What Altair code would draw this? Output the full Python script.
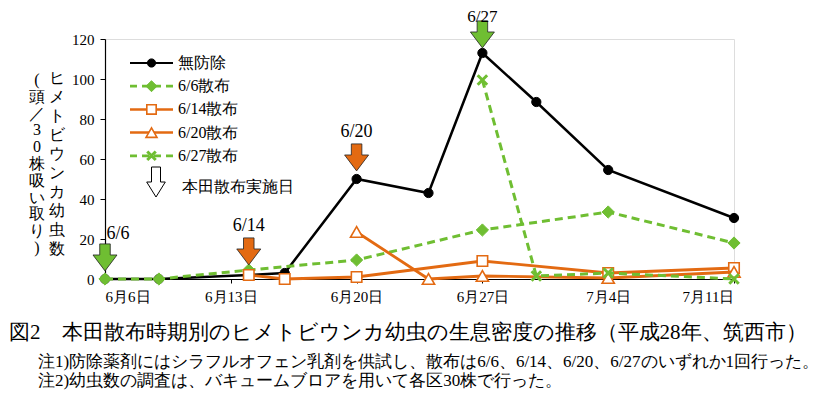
import altair as alt
import pandas as pd

# ---------------- data ----------------
START = "2016-06-06"
none_dates = ["2016-06-06", "2016-06-09", "2016-06-14", "2016-06-16", "2016-06-20",
              "2016-06-24", "2016-06-27", "2016-06-30", "2016-07-04", "2016-07-11"]
none_vals = [0, 0, 2, 3, 50, 43, 113, 88.5, 54.5, 30.5]

s66_dates = ["2016-06-06", "2016-06-09", "2016-06-14", "2016-06-20", "2016-06-27",
             "2016-07-04", "2016-07-11"]
s66_vals = [0, 0, 4.5, 9.5, 24.5, 33.5, 18]

s614_dates = ["2016-06-14", "2016-06-16", "2016-06-20", "2016-06-27", "2016-07-04", "2016-07-11"]
s614_vals = [2, 0, 1, 9, 3, 5.5]

s620_dates = ["2016-06-20", "2016-06-24", "2016-06-27", "2016-07-04", "2016-07-11"]
s620_vals = [23.5, 0, 1.5, 0.5, 3.5]

s627_dates = ["2016-06-27", "2016-06-30", "2016-07-04", "2016-07-11"]
s627_vals = [99.5, 1.5, 3, 0]

series_names = ["無防除", "6/6散布", "6/14散布", "6/20散布", "6/27散布"]

spray_dates = ["2016-06-06", "2016-06-14", "2016-06-20", "2016-06-27"]
spray_vals = [0, 3, 50, 113]
spray_labels = ["6/6", "6/14", "6/20", "6/27"]

x_tick_days = [0, 7, 14, 21, 28, 35]
x_tick_labels = ["6月6日", "6月13日", "6月20日", "6月27日", "7月4日", "7月11日"]
y_ticks = [0, 20, 40, 60, 80, 100, 120]

y_title_1 = ["ヒ", "メ", "ト", "ビ", "ウ", "ン", "カ", "幼", "虫", "数"]
y_title_2 = ["(", "頭", "／", "3", "0", "株", "吸", "い", "取", "り", ")"]
legend_arrow_text = "本田散布実施日"
caption = "図2　本田散布時期別のヒメトビウンカ幼虫の生息密度の推移（平成28年、筑西市）"
note1 = "注1)防除薬剤にはシラフルオフェン乳剤を供試し、散布は6/6、6/14、6/20、6/27のいずれか1回行った。"
note2 = "注2)幼虫数の調査は、バキュームブロアを用いて各区30株で行った。"

# ---------------- styles ----------------
SERIF = "Liberation Serif"
GREEN = "#6FBE32"
ORANGE = "#E36A12"
BLACK = "#000000"
X_PATH = "M-1,-1L1,1M1,-1L-1,1"
ARROW = "M-0.39,-2.6L0.39,-2.6L0.39,-1.78L0.89,-1.78L0,-0.6L-0.89,-1.78L-0.39,-1.78Z"
LEG_ARROW = "M-0.3,-2L0.3,-2L0.3,-1L0.62,-1L0,0L-0.62,-1L-0.3,-1Z"


def days(ds):
    t0 = pd.Timestamp(START)
    return [(pd.Timestamp(d) - t0).days for d in ds]


label_expr = "[" + ",".join("'%s'" % s for s in x_tick_labels) + "][round(datum.value/7)]"

X = alt.X("day:Q", scale=alt.Scale(domain=[0, 35], nice=False, zero=False),
          axis=alt.Axis(values=x_tick_days, labelExpr=label_expr, title=None, grid=False,
                        domainColor="black", tickColor="black", tickSize=4,
                        labelPadding=6, labelFont=SERIF, labelFontSize=15,
                        labelColor="black", domainWidth=1.2))
Y = alt.Y("value:Q", scale=alt.Scale(domain=[0, 120], nice=False),
          axis=alt.Axis(values=y_ticks, title=None, grid=False, domainColor="black",
                        tickColor="black", tickSize=5, labelPadding=6, labelFont=SERIF,
                        labelFontSize=15, labelColor="black", domainWidth=1.2))

specs = [
    # name, dates, vals, line color, dash, shape, size, fill, stroke, strokeWidth, line width
    (series_names[0], none_dates, none_vals, BLACK, None, "circle", 85, BLACK, BLACK, 1, 2.5),
    (series_names[1], s66_dates, s66_vals, GREEN, [8, 5], "diamond", 150, GREEN, GREEN, 1, 3),
    (series_names[2], s614_dates, s614_vals, ORANGE, None, "square", 110, "white", ORANGE, 1.6, 2.8),
    (series_names[3], s620_dates, s620_vals, ORANGE, None, "triangle-up", 150, "white", ORANGE, 1.6, 2.8),
    (series_names[4], s627_dates, s627_vals, GREEN, [8, 5], X_PATH, 90, "none", GREEN, 3, 3),
]

layers = []
for name, ds, vs, lc, dash, shape, size, fill, stroke, sw, lw in specs:
    df = pd.DataFrame({"day": days(ds), "value": vs, "series": name})
    lkw = dict(color=lc, strokeWidth=lw)
    if dash:
        lkw["strokeDash"] = dash
    base = alt.Chart(df)
    layers.append(base.mark_line(**lkw).encode(x=X, y=Y))
    layers.append(base.mark_point(shape=shape, size=size, fill=fill, stroke=stroke,
                                  strokeWidth=sw, opacity=1, filled=(fill != "none"))
                  .encode(x=X, y=Y))

# spray arrows
arr_df = pd.DataFrame({"day": days(spray_dates), "value": spray_vals, "label": spray_labels,
                       "col": [GREEN, ORANGE, ORANGE, GREEN]})
layers.append(alt.Chart(arr_df.iloc[:3]).mark_point(shape=ARROW, size=729, filled=True, stroke="#222",
                                                    strokeWidth=0.8, opacity=1)
              .encode(x=X, y=Y, fill=alt.Fill("col:N", scale=None)))
layers.append(alt.Chart(arr_df.iloc[3:]).mark_point(shape=ARROW, size=729, filled=True, stroke="#222",
                                                    strokeWidth=0.8, opacity=1, yOffset=3)
              .encode(x=X, y=Y, fill=alt.Fill("col:N", scale=None)))
layers.append(alt.Chart(arr_df.iloc[1:3]).mark_text(dy=-47, fontSize=18, font=SERIF, color="black")
              .encode(x=X, y=Y, text="label:N"))
layers.append(alt.Chart(arr_df.iloc[3:]).mark_text(dy=-36, fontSize=17, font=SERIF, color="black")
              .encode(x=X, y=Y, text="label:N"))
layers.append(alt.Chart(arr_df.iloc[:1]).mark_text(dy=-45, dx=13, fontSize=18, font=SERIF, color="black")
              .encode(x=X, y=Y, text="label:N"))

# legend (pixel layout inside plot area)
one = pd.DataFrame({"a": [0]})
leg_x1, leg_x2, leg_mx, leg_tx = 25, 68, 46.5, 73
for i, (name, ds, vs, lc, dash, shape, size, fill, stroke, sw, lw) in enumerate(specs):
    ly = 24 + 23.2 * i
    rkw = dict(color=lc, strokeWidth=lw - 0.3)
    if dash:
        rkw["strokeDash"] = [7, 5]
    layers.append(alt.Chart(one).mark_rule(**rkw).encode(
        x=alt.value(leg_x1), x2=alt.value(leg_x2), y=alt.value(ly)))
    layers.append(alt.Chart(one).mark_point(shape=shape, size=size * 0.8, fill=fill, stroke=stroke,
                                            strokeWidth=sw, opacity=1, filled=(fill != "none"))
                  .encode(x=alt.value(leg_mx), y=alt.value(ly)))
    layers.append(alt.Chart(one).mark_text(text=name, align="left", baseline="middle", fontSize=16,
                                           font=SERIF, color="black")
                  .encode(x=alt.value(leg_tx), y=alt.value(ly)))
layers.append(alt.Chart(one).mark_point(shape=LEG_ARROW, size=900, filled=True, fill="white",
                                        stroke="black", strokeWidth=1, opacity=1)
              .encode(x=alt.value(51), y=alt.value(158)))
layers.append(alt.Chart(one).mark_text(text=legend_arrow_text, align="left", baseline="middle",
                                       fontSize=16, font=SERIF, color="black")
              .encode(x=alt.value(77), y=alt.value(148)))

# vertical y-axis title (two columns)
layers.append(alt.Chart(one).mark_text(text=y_title_1, align="center", baseline="top", fontSize=16,
                                       lineHeight=19, font=SERIF, color="black")
              .encode(x=alt.value(-48), y=alt.value(31)))
layers.append(alt.Chart(one).mark_text(text=y_title_2, align="center", baseline="top", fontSize=16,
                                       lineHeight=16.8, font=SERIF, color="black")
              .encode(x=alt.value(-68), y=alt.value(33)))

# caption and notes
layers.append(alt.Chart(one).mark_text(text=caption, align="left", baseline="middle", fontSize=21,
                                       font=SERIF, color="black")
              .encode(x=alt.value(-96), y=alt.value(294)))
layers.append(alt.Chart(one).mark_text(text=note1, align="left", baseline="middle", fontSize=17,
                                       font=SERIF, color="black")
              .encode(x=alt.value(-67), y=alt.value(323)))
layers.append(alt.Chart(one).mark_text(text=note2, align="left", baseline="middle", fontSize=17,
                                       font=SERIF, color="black")
              .encode(x=alt.value(-67), y=alt.value(342)))

chart = alt.layer(*layers).properties(
    width=629, height=240,
    padding={"left": 97, "top": 31, "right": 96, "bottom": 112},
    autosize=alt.AutoSizeParams(type="none"),
).configure_view(stroke="#7f7f7f", strokeWidth=1.2).configure(background="white")

chart.save("out.html", embed_options={"renderer": "svg", "actions": False})
